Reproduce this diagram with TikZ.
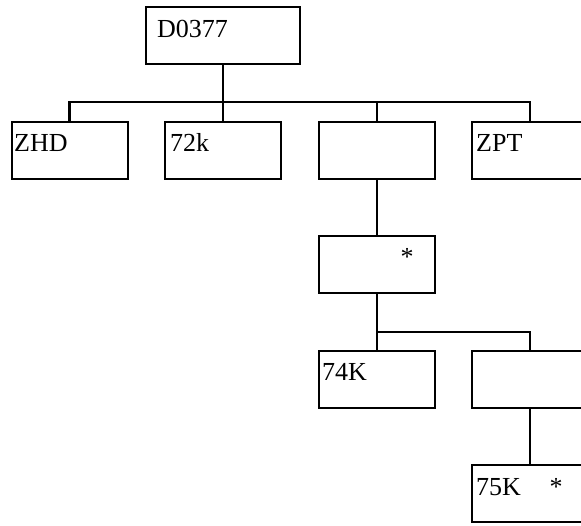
\documentclass[tikz,border=0pt]{standalone}
\usepackage{fontspec}
\setmainfont{Liberation Serif}
\begin{document}
\begin{tikzpicture}[x=1pt,y=-1pt,
  box/.style={draw,line width=2pt,inner sep=0pt,outer sep=0pt,minimum width=116pt,minimum height=57pt},
  lbl/.style={anchor=base west,inner sep=0pt,font=\fontsize{26}{30}\selectfont},
  conn/.style={line width=2.8pt}]
\useasboundingbox (0,0) rectangle (581,525);
\clip (0,0) rectangle (581,525);
% boxes
\node[box,minimum width=154pt] (d) at (223,35.5) {};
\node[box] (zhd) at (69.5,150.5) {};
\node[box] (k72) at (223,150.5) {};
\node[box] (mid) at (377,150.5) {};
\node[box] (zpt) at (530,150.5) {};
\node[box] (star) at (377,264.5) {};
\node[box] (k74) at (377,379.5) {};
\node[box] (r) at (530,379.5) {};
\node[box] (k75) at (530,493.5) {};
% labels
\node[lbl] (td) at (157,37) {D0377};
\node[lbl] (tzhd) at (14,151) {ZHD};
\node[lbl] (tk72) at (170,151) {72k};
\node[lbl] (tzpt) at (476,151) {ZPT};
\node[lbl] (tstar) at (400.5,265) {*};
\node[lbl] (tk74) at (322,380) {74K};
\node[lbl] (tk75) at (476,495) {75K};
\node[lbl] (tk75s) at (549.5,495) {*};
% connectors
\coordinate (j1) at (223,102);
\coordinate (j2) at (377,332);
\draw[conn] (zhd.north) |- (j1) -| (zpt.north);
\draw[conn] (d.south) -- (k72.north);
\draw[conn] (mid.north) -- (mid.north |- j1);
\draw[conn] (mid.south) -- (star.north);
\draw[conn] (star.south) -- (j2) -| (r.north);
\draw[conn] (j2) -- (k74.north);
\draw[conn] (r.south) -- (k75.north);
\end{tikzpicture}
\end{document}
